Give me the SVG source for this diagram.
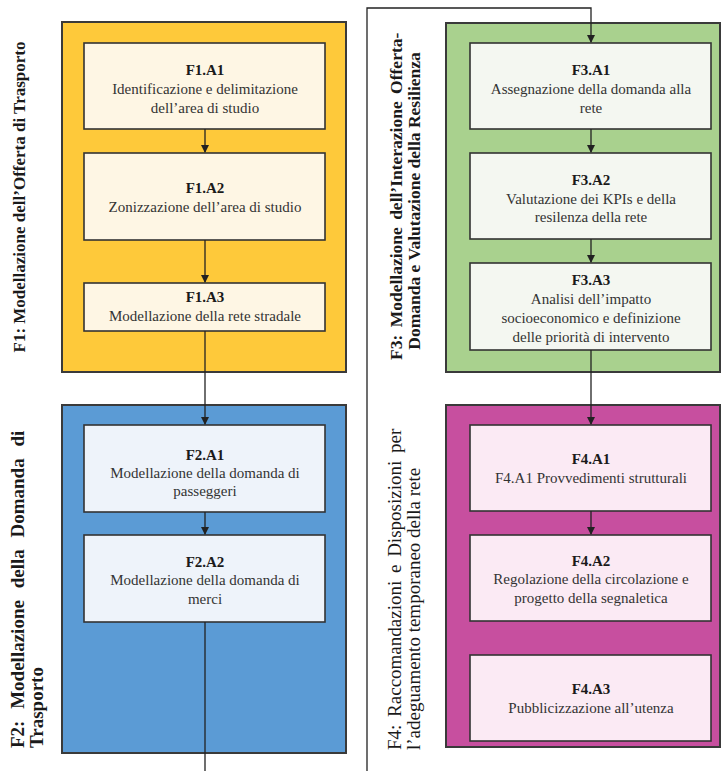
<svg xmlns="http://www.w3.org/2000/svg" width="721" height="771" viewBox="0 0 721 771">
<style>
text{font-family:"Liberation Serif","Times New Roman",serif;fill:#333}
.t{font-weight:bold;font-size:15px;fill:#1a1a1a;text-anchor:middle}
.b{font-size:15px;text-anchor:middle}
.lab{font-weight:bold;font-size:17px;fill:#1a1a1a}
.lab2{font-weight:bold;font-size:19px;fill:#1a1a1a}
.lab3{font-weight:bold;font-size:17.5px;fill:#1a1a1a}
.lab4{font-size:19px;fill:#1a1a1a}
.panel{stroke:#3a3a3a;stroke-width:2}
.box{stroke:#333;stroke-width:1.6}
.c{fill:none;stroke:#222;stroke-width:1.3}
</style>
<defs>
<marker id="ah" markerWidth="8" markerHeight="8" refX="7" refY="4" orient="auto" markerUnits="userSpaceOnUse">
<path d="M0,0 L8,4 L0,8 Z" fill="#222"/>
</marker>
</defs>
<rect width="721" height="771" fill="#fff"/>

<g id="F1">
<rect class="panel" x="62" y="22" width="284" height="350" fill="#FEC93A"/>
<text class="lab" transform="translate(25,197) rotate(-90)" text-anchor="middle">F1: Modellazione dell’Offerta di Trasporto</text>
</g>
<g id="F2">
<rect class="panel" x="62" y="405" width="284" height="348" fill="#5B9BD5"/>
<text class="lab2" transform="translate(24,748) rotate(-90)" style="word-spacing:7px">F2: Modellazione della Domanda di</text>
<text class="lab2" transform="translate(43,748) rotate(-90)">Trasporto</text>
</g>
<g id="F3">
<rect class="panel" x="446" y="23" width="274" height="349" fill="#A9D18E"/>
<text class="lab3" transform="translate(402,360) rotate(-90)" style="word-spacing:3px">F3: Modellazione dell’Interazione Offerta-</text>
<text class="lab3" transform="translate(420,201) rotate(-90)" text-anchor="middle">Domanda e Valutazione della Resilienza</text>
</g>
<g id="F4">
<rect class="panel" x="446" y="405" width="274" height="342" fill="#C74F9F"/>
<text class="lab4" transform="translate(401,750) rotate(-90)" style="word-spacing:3px">F4: Raccomandazioni e Disposizioni per</text>
<text class="lab4" transform="translate(420,750) rotate(-90)">l’adeguamento temporaneo della rete</text>
</g>

<g id="F1A1">
<rect class="box" x="84" y="43" width="241" height="86" fill="#FEF6E4"/>
<text class="t" x="205" y="75">F1.A1</text>
<text class="b" x="205" y="94">Identificazione e delimitazione</text>
<text class="b" x="205" y="113">dell’area di studio</text>
</g>
<g id="F1A2">
<rect class="box" x="84" y="153" width="241" height="87" fill="#FEF6E4"/>
<text class="t" x="205" y="193">F1.A2</text>
<text class="b" x="205" y="212">Zonizzazione dell’area di studio</text>
</g>
<g id="F1A3">
<rect class="box" x="84" y="283" width="241" height="48" fill="#FEF6E4"/>
<text class="t" x="205" y="302">F1.A3</text>
<text class="b" x="205" y="321">Modellazione della rete stradale</text>
</g>

<g id="F2A1">
<rect class="box" x="84" y="425" width="241" height="87" fill="#EEF3FA"/>
<text class="t" x="205" y="460">F2.A1</text>
<text class="b" x="205" y="478">Modellazione della domanda di</text>
<text class="b" x="205" y="496">passeggeri</text>
</g>
<g id="F2A2">
<rect class="box" x="84" y="535" width="241" height="87" fill="#EEF3FA"/>
<text class="t" x="205" y="567">F2.A2</text>
<text class="b" x="205" y="585">Modellazione della domanda di</text>
<text class="b" x="205" y="604">merci</text>
</g>

<g id="F3A1">
<rect class="box" x="470" y="43" width="241" height="86" fill="#F4F7F1"/>
<text class="t" x="591" y="75">F3.A1</text>
<text class="b" x="591" y="94">Assegnazione della domanda alla</text>
<text class="b" x="591" y="113">rete</text>
</g>
<g id="F3A2">
<rect class="box" x="470" y="153" width="241" height="86" fill="#F4F7F1"/>
<text class="t" x="591" y="185">F3.A2</text>
<text class="b" x="591" y="204">Valutazione dei KPIs e della</text>
<text class="b" x="591" y="222">resilenza della rete</text>
</g>
<g id="F3A3">
<rect class="box" x="470" y="263" width="241" height="87" fill="#F4F7F1"/>
<text class="t" x="591" y="285">F3.A3</text>
<text class="b" x="591" y="304">Analisi dell’impatto</text>
<text class="b" x="591" y="323">socioeconomico e definizione</text>
<text class="b" x="591" y="342">delle priorità di intervento</text>
</g>

<g id="F4A1">
<rect class="box" x="470" y="425" width="241" height="86" fill="#FBEAF4"/>
<text class="t" x="591" y="464">F4.A1</text>
<text class="b" x="591" y="483">F4.A1 Provvedimenti strutturali</text>
</g>
<g id="F4A2">
<rect class="box" x="470" y="535" width="241" height="86" fill="#FBEAF4"/>
<text class="t" x="591" y="566">F4.A2</text>
<text class="b" x="591" y="584">Regolazione della circolazione e</text>
<text class="b" x="591" y="603">progetto della segnaletica</text>
</g>
<g id="F4A3">
<rect class="box" x="470" y="655" width="241" height="86" fill="#FBEAF4"/>
<text class="t" x="591" y="694">F4.A3</text>
<text class="b" x="591" y="713">Pubblicizzazione all’utenza</text>
</g>

<g id="connectors">
<path class="c" d="M205,129 V152" marker-end="url(#ah)"/>
<path class="c" d="M205,240 V282" marker-end="url(#ah)"/>
<path class="c" d="M205,331 V424" marker-end="url(#ah)"/>
<path class="c" d="M205,512 V534" marker-end="url(#ah)"/>
<path class="c" d="M205,622 V790 H367 V8 H591 V42" marker-end="url(#ah)"/>
<path class="c" d="M591,129 V152" marker-end="url(#ah)"/>
<path class="c" d="M591,239 V262" marker-end="url(#ah)"/>
<path class="c" d="M591,350 V424" marker-end="url(#ah)"/>
<path class="c" d="M591,511 V534" marker-end="url(#ah)"/>
</g>
</svg>
